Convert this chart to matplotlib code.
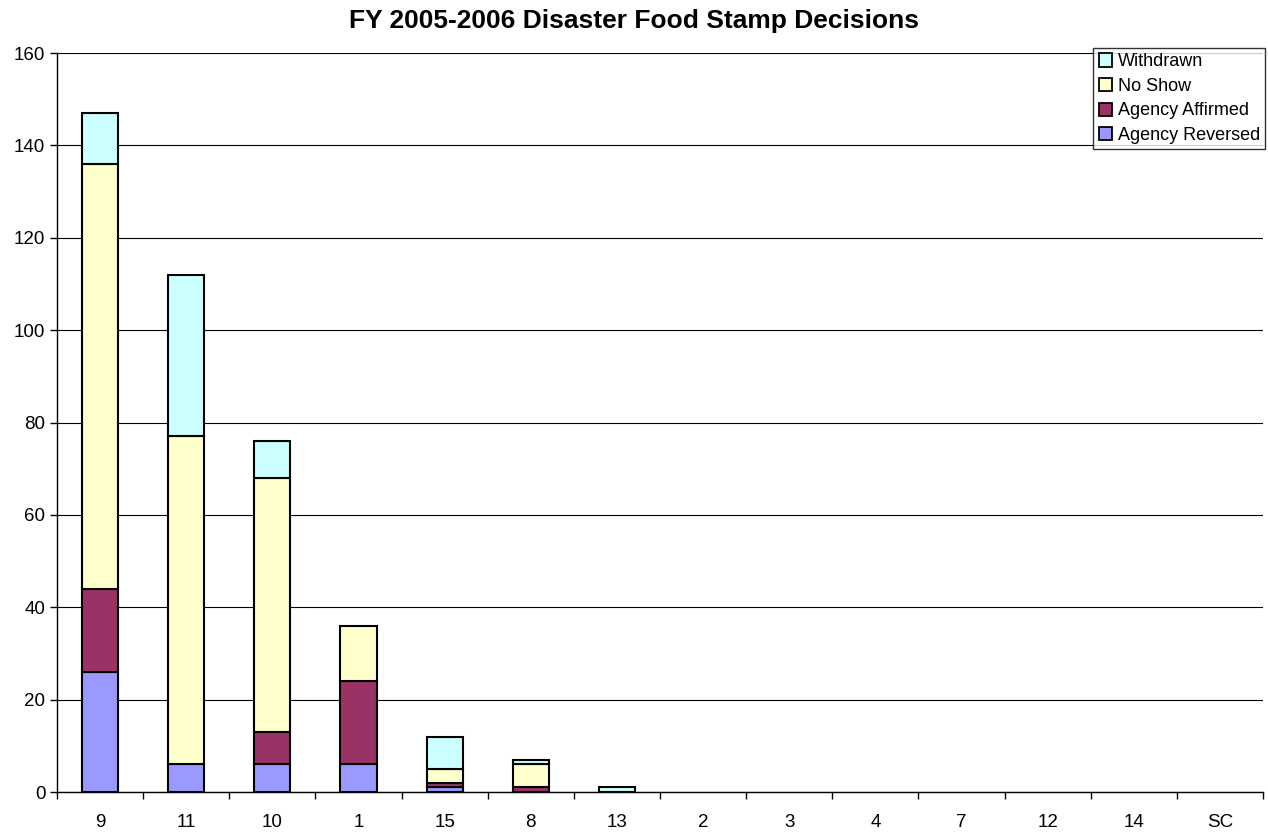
import matplotlib.pyplot as plt
import numpy as np

plt.rcParams['font.family'] = ['Liberation Sans', 'DejaVu Sans']

regions = ["9", "11", "10", "1", "15", "8", "13", "2", "3", "4", "7", "12", "14", "SC"]
reversed_ = [26, 6, 6, 6, 1, 0, 0, 0, 0, 0, 0, 0, 0, 0]
affirmed = [18, 0, 7, 18, 1, 1, 0, 0, 0, 0, 0, 0, 0, 0]
no_show = [92, 71, 55, 12, 3, 5, 0, 0, 0, 0, 0, 0, 0, 0]
withdrawn = [11, 35, 8, 0, 7, 1, 1, 0, 0, 0, 0, 0, 0, 0]

series = [
    ("Agency Reversed", reversed_, "#9999ff"),
    ("Agency Affirmed", affirmed, "#993366"),
    ("No Show", no_show, "#ffffcc"),
    ("Withdrawn", withdrawn, "#ccffff"),
]

fig = plt.figure(figsize=(12.68, 8.36), dpi=100)
ax = fig.add_axes([0.045, 0.0526, 0.951, 0.884])

x = np.arange(len(regions))
bottom = np.zeros(len(regions))
handles = []
for name, vals, col in series:
    vals = np.array(vals, dtype=float)
    # zero segments are not drawn at all (no flat outline)
    ec = ["black" if v > 0 else "none" for v in vals]
    b = ax.bar(x, vals, width=0.42, bottom=bottom, color=col,
               edgecolor=ec, linewidth=1.5, label=name, zorder=3)
    bottom += vals
    handles.append(b)

ax.set_xlim(-0.5, len(regions) - 0.5)
ax.set_ylim(0, 160)
ax.set_yticks(range(0, 161, 20))
ax.yaxis.grid(True, color="black", linewidth=0.8, zorder=0)
ax.set_xticks(x)
ax.set_xticklabels(regions)
ax.set_xticks(np.arange(-0.5, len(regions)), minor=True)
ax.tick_params(axis="x", which="major", length=0, labelsize=13.5, pad=16)
ax.tick_params(axis="x", which="minor", length=5, width=1, direction="out")
ax.tick_params(axis="y", labelsize=13.5, length=5, width=1, direction="out")
for s in ["top", "right"]:
    ax.spines[s].set_visible(False)
ax.spines["left"].set_linewidth(1)
ax.spines["bottom"].set_linewidth(1)

fig.text(0.5, 0.975, "FY 2005-2006 Disaster Food Stamp Decisions", fontsize=19,
         fontweight="bold", ha="center", va="center")

leg = ax.legend([h.patches[0] for h in handles[::-1]], [s[0] for s in series][::-1],
                loc="upper right", bbox_to_anchor=(1.002, 1.007), fontsize=13,
                frameon=True, fancybox=False, edgecolor="black",
                handlelength=0.75, handleheight=0.75, handletextpad=0.3,
                labelspacing=0.42, borderpad=0.3, borderaxespad=0)
leg.get_frame().set_linewidth(1)
for p in leg.get_patches():
    p.set_edgecolor("black")
    p.set_linewidth(1.3)

fig.savefig("out.png", dpi=100)
